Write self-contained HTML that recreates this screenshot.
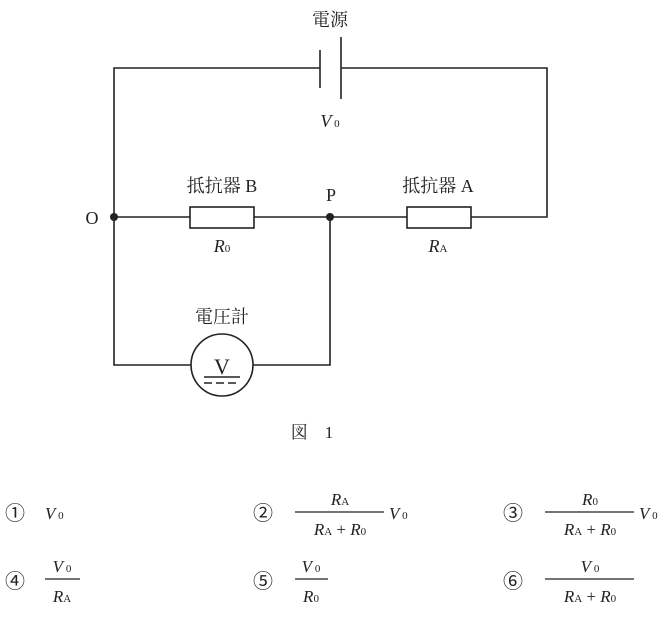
<!DOCTYPE html>
<html><head><meta charset="utf-8"><style>
html,body{margin:0;padding:0;background:#fff;}
svg text{font-family:"Liberation Serif","Noto Serif CJK SC",serif;fill:#222;}
.j{font-family:"Liberation Serif","Noto Serif CJK SC",serif;}
.c{font-family:"Liberation Sans","Noto Sans CJK JP",sans-serif;}
.i{font-style:italic;}
</style></head><body>
<svg width="670" height="613" viewBox="0 0 670 613" xmlns="http://www.w3.org/2000/svg">
<g stroke="#222" stroke-width="1.6" fill="none">
<polyline points="320,68 114,68 114,365 191,365"/>
<polyline points="341,68 547,68 547,217 471,217"/>
<line x1="320" y1="50" x2="320" y2="88"/>
<line x1="341" y1="37" x2="341" y2="99"/>
<line x1="114" y1="217" x2="190" y2="217"/>
<line x1="254" y1="217" x2="407" y2="217"/>
<rect x="190" y="207" width="64" height="21" fill="#fff"/>
<rect x="407" y="207" width="64" height="21" fill="#fff"/>
<polyline points="330,217 330,365 253,365"/>
<circle cx="222" cy="365" r="31" fill="#fff"/>
<line x1="204" y1="377" x2="240" y2="377"/>
<line x1="204" y1="383" x2="240" y2="383" stroke-dasharray="8,4"/>
</g>
<circle cx="114" cy="217" r="4" fill="#222"/>
<circle cx="330" cy="217" r="4" fill="#222"/>
<text x="222" y="374" font-size="22" text-anchor="middle">V</text>
<text class="j" x="330" y="26" font-size="18" text-anchor="middle">電源</text>
<text x="330" y="127" font-size="18" text-anchor="middle"><tspan class="i">V</tspan><tspan font-size="11"> 0</tspan></text>
<text class="j" x="222" y="192" font-size="18" text-anchor="middle">抵抗器 B</text>
<text class="j" x="438" y="192" font-size="18" text-anchor="middle">抵抗器 A</text>
<text x="331" y="201" font-size="18" text-anchor="middle">P</text>
<text x="92" y="224" font-size="18" text-anchor="middle">O</text>
<text x="222" y="252" font-size="18" text-anchor="middle"><tspan class="i">R</tspan><tspan font-size="11">0</tspan></text>
<text x="438" y="252" font-size="18" text-anchor="middle"><tspan class="i">R</tspan><tspan font-size="11">A</tspan></text>
<text class="j" x="222" y="323" font-size="18" text-anchor="middle">電圧計</text>
<text class="j" x="312" y="438" font-size="17" text-anchor="middle">図　1</text>
<g font-size="17">
<text class="c" x="5" y="520" font-size="20">①</text>
<text x="45" y="519"><tspan class="i">V</tspan><tspan font-size="11"> 0</tspan></text>
<text class="c" x="253" y="520" font-size="20">②</text>
<text x="340" y="505" text-anchor="middle"><tspan class="i">R</tspan><tspan font-size="11">A</tspan></text>
<line x1="295" y1="512" x2="384" y2="512" stroke="#222" stroke-width="1.2"/>
<text x="340" y="535" text-anchor="middle"><tspan class="i">R</tspan><tspan font-size="11">A</tspan> + <tspan class="i">R</tspan><tspan font-size="11">0</tspan></text>
<text x="389" y="519"><tspan class="i">V</tspan><tspan font-size="11"> 0</tspan></text>
<text class="c" x="503" y="520" font-size="20">③</text>
<text x="590" y="505" text-anchor="middle"><tspan class="i">R</tspan><tspan font-size="11">0</tspan></text>
<line x1="545" y1="512" x2="634" y2="512" stroke="#222" stroke-width="1.2"/>
<text x="590" y="535" text-anchor="middle"><tspan class="i">R</tspan><tspan font-size="11">A</tspan> + <tspan class="i">R</tspan><tspan font-size="11">0</tspan></text>
<text x="639" y="519"><tspan class="i">V</tspan><tspan font-size="11"> 0</tspan></text>
<text class="c" x="5" y="588" font-size="20">④</text>
<text x="62" y="572" text-anchor="middle"><tspan class="i">V</tspan><tspan font-size="11"> 0</tspan></text>
<line x1="45" y1="579" x2="80" y2="579" stroke="#222" stroke-width="1.2"/>
<text x="62" y="602" text-anchor="middle"><tspan class="i">R</tspan><tspan font-size="11">A</tspan></text>
<text class="c" x="253" y="588" font-size="20">⑤</text>
<text x="311" y="572" text-anchor="middle"><tspan class="i">V</tspan><tspan font-size="11"> 0</tspan></text>
<line x1="295" y1="579" x2="328" y2="579" stroke="#222" stroke-width="1.2"/>
<text x="311" y="602" text-anchor="middle"><tspan class="i">R</tspan><tspan font-size="11">0</tspan></text>
<text class="c" x="503" y="588" font-size="20">⑥</text>
<text x="590" y="572" text-anchor="middle"><tspan class="i">V</tspan><tspan font-size="11"> 0</tspan></text>
<line x1="545" y1="579" x2="634" y2="579" stroke="#222" stroke-width="1.2"/>
<text x="590" y="602" text-anchor="middle"><tspan class="i">R</tspan><tspan font-size="11">A</tspan> + <tspan class="i">R</tspan><tspan font-size="11">0</tspan></text>
</g>
</svg>
</body></html>
